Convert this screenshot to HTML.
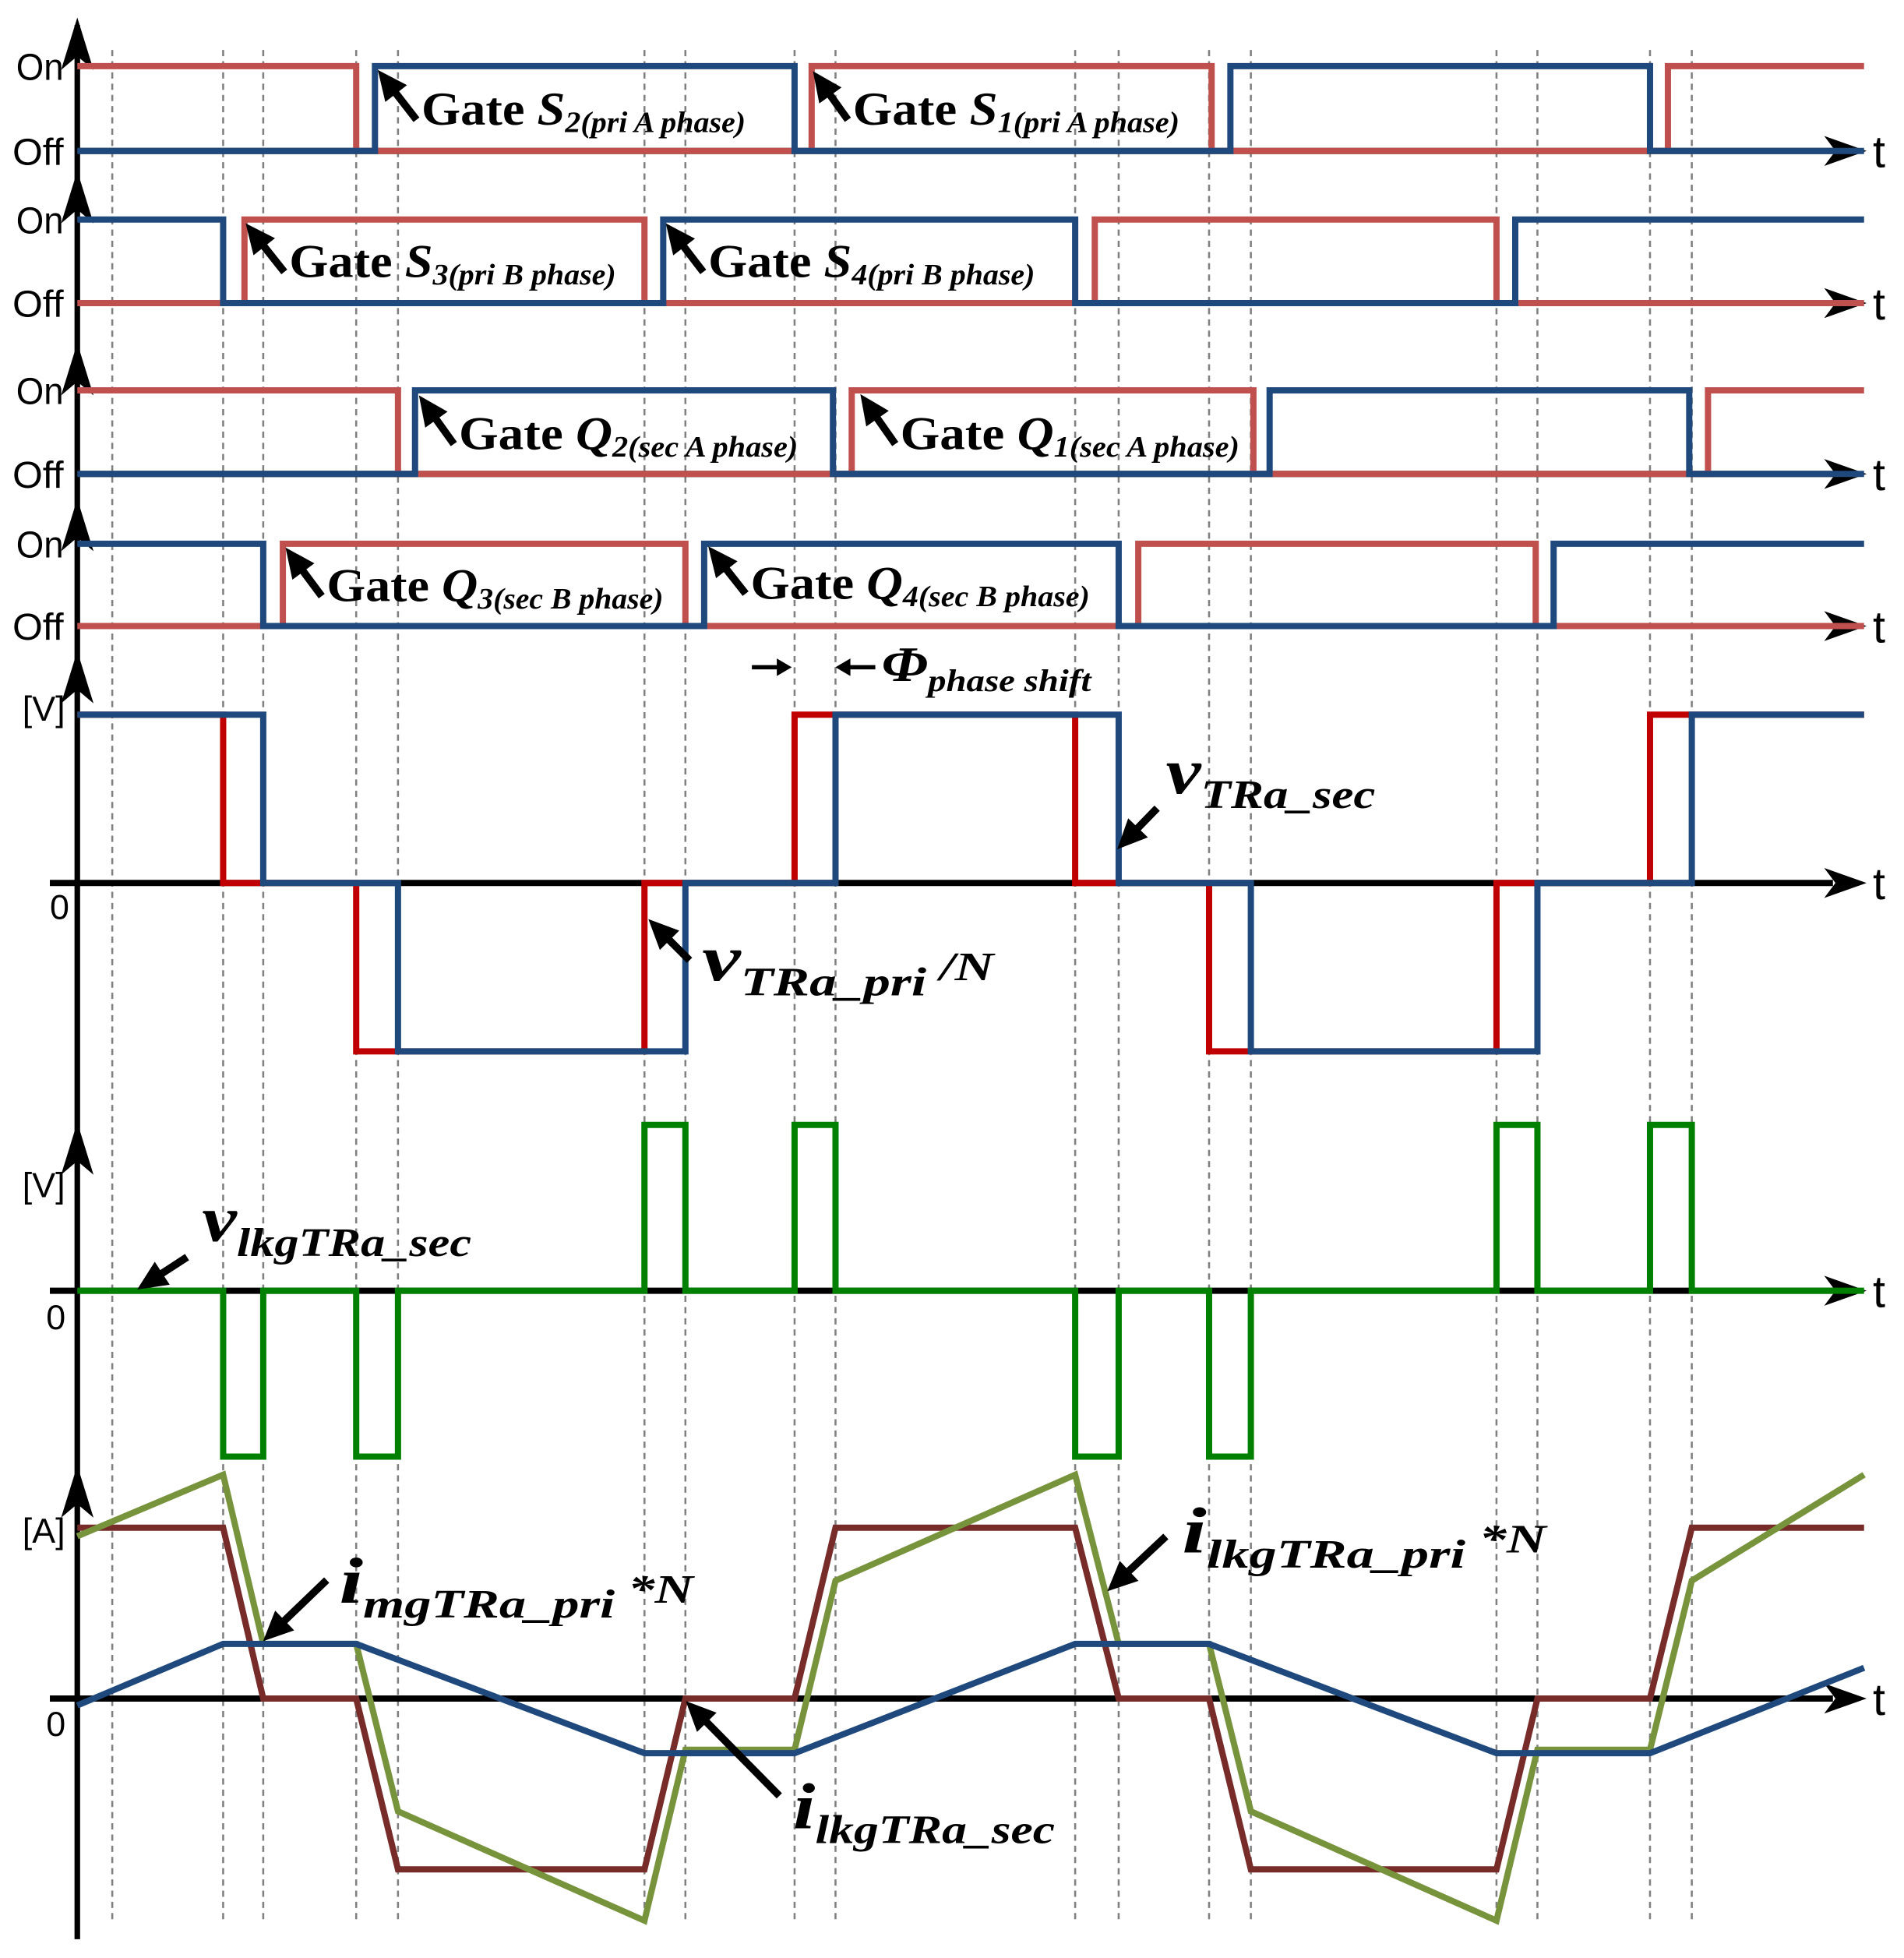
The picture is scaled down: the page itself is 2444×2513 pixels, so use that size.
<!DOCTYPE html>
<html><head><meta charset="utf-8"><style>
html,body{margin:0;padding:0;background:#fff}
svg{display:block}
.lbl{font-family:"Liberation Serif",serif;font-weight:bold;fill:#000}
.ax{font-family:"Liberation Sans",sans-serif;fill:#000}
</style></head><body>
<svg id="chart" width="2444" height="2513" viewBox="0 0 1527 1570" xmlns="http://www.w3.org/2000/svg">
<g id="grid"></g>
<g id="axes"></g>
<g id="series"></g>
<g id="labels"></g>
</svg>
<script>
// time axis: x = 62 + t*6.84
const gridTimes=[4.1,17.1,21.8,32.7,37.6,66.5,71.3,84.1,88.9,117,122.1,132.7,137.6,166.4,171.2,184.4,189.3];
const tEnd=209.5;
// gate signals: start state + toggle times
const s12Red={start:1,edges:[32.7,86.1,133,186.5]};
const s12Blue={start:0,edges:[34.9,84.1,135.2,184.4]};
const s34Blue={start:1,edges:[17.1,68.7,117,168.6]};
const s34Red={start:0,edges:[19.6,66.5,119.3,166.4]};
const q12Red={start:1,edges:[37.6,90.8,137.9,191.2]};
const q12Blue={start:0,edges:[39.6,88.6,139.8,189]};
const q34Blue={start:1,edges:[21.8,73.5,122.1,173.1]};
const q34Red={start:0,edges:[24.1,71.3,124.4,171]};
// transformer voltages
const vPriTimes=[0,17.1,32.7,66.5,84.1,117,132.7,166.4,184.4,209.5];
const vPriLevels=[1,0,-1,0,1,0,-1,0,1];
const vSecTimes=[0,21.8,37.6,71.3,88.9,122.1,137.6,171.2,189.3,209.5];
const vSecLevels=[1,0,-1,0,1,0,-1,0,1];
// currents (t, value)
const iSecT=[0,17.1,21.8,32.7,37.6,66.5,71.3,84.1,88.9,117,122.1,132.7,137.6,166.4,171.2,184.4,189.3,209.5];
const iSecV=[1,1,0,0,-1,-1,0,0,1,1,0,0,-1,-1,0,0,1,1];
const iPriT=[0,17.1,21.8,32.7,37.6,66.5,71.3,84.1,88.9,117,122.1,132.7,137.6,166.4,171.2,184.4,189.3,209.5];
const iPriV=[0.95,1.31,0.32,0.32,-0.66,-1.3,-0.3,-0.3,0.69,1.31,0.32,0.32,-0.66,-1.3,-0.3,-0.3,0.69,1.31];
const iMgT=[0,17.1,32.7,66.5,84.1,117,132.7,166.4,184.4,209.5];
const iMgV=[-0.04,0.32,0.32,-0.32,-0.32,0.32,0.32,-0.32,-0.32,0.18];

const NS='http://www.w3.org/2000/svg';
const X=t=>62+t*6.84;
function mk(tag,attrs,parent){const e=document.createElementNS(NS,tag);for(const k in attrs)e.setAttribute(k,attrs[k]);parent.appendChild(e);return e;}
const G=document.getElementById('grid'),A=document.getElementById('axes'),S=document.getElementById('series'),L=document.getElementById('labels');

gridTimes.forEach((t,i)=>{const l=mk('line',{x1:X(t),x2:X(t),y1:40,y2:1540,stroke:'#808080','stroke-width':1.6,'stroke-dasharray':'5,4'},G);

});

const va=mk('line',{x1:62,x2:62,y1:20,y2:1555,stroke:'#000','stroke-width':4.5},A);


[14,137,275,400,522,900,1175].forEach((y,i)=>{const p=mk('path',{d:`M62,${y} L49,${y+42} L62,${y+31} L75,${y+42} z`,fill:'#000'},A);

});
const baseY=[121,243,380,502,708,1035,1362];
baseY.forEach((y,i)=>{const l=mk('line',{x1:i>=4?40:62,x2:1470,y1:y,y2:y,stroke:'#000','stroke-width':5},A);


const p=mk('path',{d:`M1497,${y} L1463,${y-12} L1472,${y} L1463,${y+12} z`,fill:'#000'},A);


const t=mk('text',{x:1502,y:y+13,'font-size':36,class:'ax'},A);t.textContent='t';

});

function gatePath(sig,yOn,yOff){let st=sig.start,d=`M${X(0)},${st?yOn:yOff}`;
sig.edges.forEach(t=>{d+=` L${X(t)},${st?yOn:yOff}`;st=1-st;d+=` L${X(t)},${st?yOn:yOff}`;});
d+=` L${X(tEnd)},${st?yOn:yOff}`;return d;}
function addPath(d,color,name,w){const p=mk('path',{d:d,fill:'none',stroke:color,'stroke-width':w||5,'stroke-linejoin':'miter'},S);

}
const RED='#c0504d',BLUE='#1f497d';
const rows=[[s12Red,s12Blue,53,121,'s1','s2'],[s34Red,s34Blue,176,243,'s3','s4'],[q12Red,q12Blue,313,380,'q1','q2'],[q34Red,q34Blue,436,502,'q3','q4']];
rows.forEach(r=>{addPath(gatePath(r[0],r[2],r[3]),RED,'gate-'+r[4]+'-signal');addPath(gatePath(r[1],r[2],r[3]),BLUE,'gate-'+r[5]+'-signal');
[['On',r[2]],['Off',r[3]]].forEach(o=>{const t=mk('text',{x:o[0]==='On'?13:10,y:o[1]+11,'font-size':30,class:'ax',textLength:o[0]==='On'?38:41,lengthAdjust:'spacingAndGlyphs'},L);t.textContent=o[0];

});});

function stepPath(times,levels,y0,k){let d=`M${X(times[0])},${y0-k*levels[0]}`;
for(let i=0;i<levels.length;i++){d+=` L${X(times[i])},${y0-k*levels[i]} L${X(times[i+1])},${y0-k*levels[i]}`;}return d;}
addPath(stepPath(vPriTimes,vPriLevels,708,135),'#c00000','v-tra-pri-over-n');
addPath(stepPath(vSecTimes,vSecLevels,708,135),BLUE,'v-tra-sec');
function lev(times,levels,t){for(let i=0;i<levels.length;i++)if(t>=times[i]&&t<times[i+1])return levels[i];return levels[levels.length-1];}
const all=[...new Set([...vPriTimes,...vSecTimes])].sort((a,b)=>a-b);
const lkT=[],lkV=[];all.slice(0,-1).forEach(t=>{lkT.push(t);lkV.push(lev(vPriTimes,vPriLevels,t)-lev(vSecTimes,vSecLevels,t));});lkT.push(tEnd);
addPath(stepPath(lkT,lkV,1035,133),'#008000','v-lkg-tra-sec');

function linPath(T,V,y0,k){return T.map((t,i)=>(i?'L':'M')+X(t)+','+(y0-k*V[i])).join(' ');}
addPath(linPath(iSecT,iSecV,1362,137),'#772c2a','i-lkg-tra-sec');
addPath(linPath(iPriT,iPriV,1362,137),'#77933c','i-lkg-tra-pri-times-n');
addPath(linPath(iMgT,iMgV,1362,137),BLUE,'i-mg-tra-pri-times-n');

[['[V]',18,578],['0',40,737],['[V]',18,960],['0',37,1066],['[A]',18,1237],['0',37,1392]].forEach((a,i)=>{const t=mk('text',{x:a[1],y:a[2],'font-size':28,class:'ax'},L);t.textContent=a[0];

});

function arrow(name,f,to,w,hl,hw){const dx=to[0]-f[0],dy=to[1]-f[1],len=Math.hypot(dx,dy),ux=dx/len,uy=dy/len;
const bx=to[0]-ux*hl,by=to[1]-uy*hl;
const l=mk('line',{x1:f[0],y1:f[1],x2:bx+ux*2,y2:by+uy*2,stroke:'#000','stroke-width':w},L);


const p=mk('path',{d:`M${to[0]},${to[1]} L${bx-uy*hw},${by+ux*hw} L${bx+uy*hw},${by-ux*hw} z`,fill:'#000'},L);

}

function note(name,parts,x,y,size,width,af,at){
const t=mk('text',{x:x,y:y,class:'lbl','font-size':size,textLength:width,lengthAdjust:'spacingAndGlyphs'},L);


parts.forEach(p=>{const s=mk('tspan',{},t);s.textContent=p[0];if(p[1])s.setAttribute('font-style','italic');if(p[2]){s.setAttribute('font-size',size*0.62);s.setAttribute('dy',p[2]);}});
if(af)arrow(name+'-arrow',af,at,6,24,11);}
const gl=[['gate-s2-label','S','2(pri A phase)',338,100,260,[334,96],[303,56]],
['gate-s1-label','S','1(pri A phase)',684,100,262,[680,96],[652,57]],
['gate-s3-label','S','3(pri B phase)',232,222,262,[228,218],[197,179]],
['gate-s4-label','S','4(pri B phase)',568,222,262,[564,218],[534,179]],
['gate-q2-label','Q','2(sec A phase)',368,360,272,[364,356],[336,317]],
['gate-q1-label','Q','1(sec A phase)',722,360,272,[718,356],[690,316]],
['gate-q3-label','Q','3(sec B phase)',262,482,270,[258,478],[229,439]],
['gate-q4-label','Q','4(sec B phase)',602,480,272,[598,476],[568,438]]];
gl.forEach(g=>note(g[0],[['Gate '],[g[1],1],[g[2],1,6]],g[3],g[4],38,g[5],g[6],g[7]));
note('phase-shift-label',[['Φ',1],['phase shift',1,8]],707,546,40,168,null,null);
arrow('phase-shift-arrow-left',[603,535],[635,535],3.5,12,7);
arrow('phase-shift-arrow-right',[702,535],[670,535],3.5,12,7);
note('v-tra-sec-label',[['v',1],['TRa_sec',1,12]],935,636,52,168,[928,648],[896,681]);
note('v-tra-pri-label',[['v',1],['TRa_pri',1,12],[' /N',1,-12]],563,786,52,234,[553,770],[520,737]);
note('v-lkg-label',[['v',1],['lkgTRa_sec',1,12]],162,995,52,216,[150,1008],[110,1034]);
note('i-mg-label',[['i',1],['mgTRa_pri',1,12],[' *N',1,-12]],272,1285,52,284,[262,1267],[211,1316]);
note('i-lkg-pri-label',[['i',1],['lkgTRa_pri',1,12],[' *N',1,-12]],948,1245,52,292,[935,1232],[888,1276]);
note('i-lkg-sec-label',[['i',1],['lkgTRa_sec',1,12]],636,1466,52,210,[625,1440],[550,1364]);
</script>
</body></html>
